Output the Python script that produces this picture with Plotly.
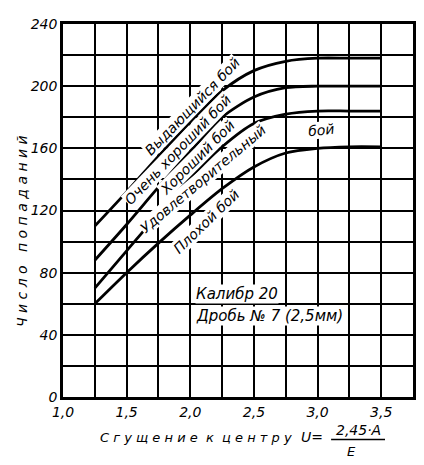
import plotly.graph_objects as go

# x = concentration (сгущение), y = number of hits for each quality band boundary
x_vals = [1.25, 1.5, 1.75, 2.0, 2.25, 2.5, 2.75, 3.0, 3.25, 3.5]
curve_1 = [110, 132, 155, 177, 197, 210, 216, 218, 218, 218]
curve_2 = [88, 111, 135, 158, 180, 193, 199, 200, 200, 200]
curve_3 = [70, 94, 118, 141, 161, 176, 182, 184, 184, 184]
curve_4 = [60, 80, 99, 117, 134, 148, 157, 160, 161, 161]

x_ticks = [1.0, 1.25, 1.5, 1.75, 2.0, 2.25, 2.5, 2.75, 3.0, 3.25, 3.5, 3.75]
x_labels = ['1,0', '', '1,5', '', '2,0', '', '2,5', '', '3,0', '', '3,5', '']
y_ticks = list(range(0, 241, 20))
y_labels = [str(v) if v % 40 == 0 else '' for v in y_ticks]

# band labels: text, x, y, angle
band_labels = [
    ('Выдающийся бой', 2.02, 187, -46),
    ('Очень хороший бой', 1.90, 159, -46),
    ('Хороший бой', 2.05, 154, -45),
    ('Удовлетворительный', 2.10, 140, -40),
    ('бой', 3.03, 172, -6),
    ('Плохой бой', 2.13, 113, -44),
]

FONT = 'DejaVu Sans'
ital = dict(family=FONT, style='italic', color='black')

fig = go.Figure()

for ys in [curve_1, curve_2, curve_3, curve_4]:
    fig.add_trace(go.Scatter(x=x_vals, y=ys, mode='lines',
                             line=dict(color='black', width=2.8, shape='spline', smoothing=0.8),
                             showlegend=False, hoverinfo='skip'))

for txt, ax, ay, ang in band_labels:
    fig.add_annotation(x=ax, y=ay, text=txt, textangle=ang, showarrow=False,
                       font=dict(ital, size=14), bgcolor='white', borderpad=0)

fig.add_annotation(x=2.04, y=66, xanchor='left', text='Калибр 20', showarrow=False,
                   font=dict(ital, size=15), bgcolor='white', borderpad=0)
fig.add_annotation(x=2.04, y=52, xanchor='left', text='Дробь № 7 (2,5мм)', showarrow=False,
                   font=dict(ital, size=15), bgcolor='white', borderpad=0)


def paper_text(txt, px, py, size=14, angle=0):
    # text centred on a paper position (anchors fixed, not 'auto')
    fig.add_annotation(xref='paper', yref='paper', x=px, y=py, text=txt,
                       xanchor='center', yanchor='middle', textangle=angle,
                       showarrow=False, font=dict(ital, size=size))


# axis titles (placed by hand, the y title sits a bit low like the original)
paper_text('Ч и с л о   п о п а д а н и й', -0.117, 0.445, angle=-90)
paper_text('С г у щ е н и е  к  ц е н т р у', 0.38, -0.108, size=13)
paper_text('U=', 0.712, -0.108)
paper_text('2,45·A', 0.845, -0.089)
paper_text('E', 0.825, -0.146, size=13)
fig.add_shape(type='line', xref='paper', yref='paper', x0=0.766, x1=0.92,
              y0=-0.114, y1=-0.114, line=dict(color='black', width=1.5))

fig.update_xaxes(range=[1.0, 3.75], tickvals=x_ticks, ticktext=x_labels,
                 showgrid=True, gridcolor='black', gridwidth=1.8,
                 showline=True, linecolor='black', linewidth=2.5, mirror=True,
                 zeroline=False, ticks='', tickfont=dict(ital, size=14))
fig.update_yaxes(range=[0, 240], tickvals=y_ticks, ticktext=y_labels,
                 showgrid=True, gridcolor='black', gridwidth=1.8,
                 showline=True, linecolor='black', linewidth=2.5, mirror=True,
                 zeroline=False, ticks='', tickfont=dict(ital, size=14))

# page body has an 8px margin, so the figure is 8px smaller and margins shifted
fig.update_layout(width=416, height=457, plot_bgcolor='white', paper_bgcolor='white',
                  margin=dict(l=55, r=10, t=8, b=68), font=dict(family=FONT))

fig.write_html("out.html")
